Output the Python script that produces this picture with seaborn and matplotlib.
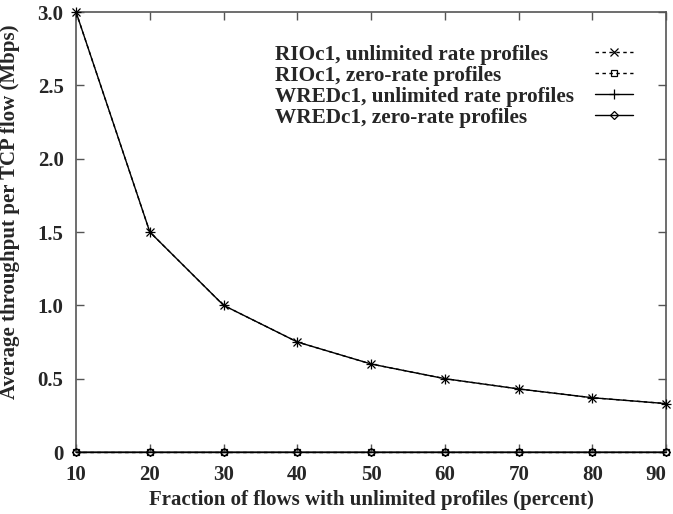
import pandas as pd
import matplotlib.pyplot as plt
import seaborn as sns

# Data
fraction = [10, 20, 30, 40, 50, 60, 70, 80, 90]
rio_unlimited = [3.0, 1.5, 1.0, 0.75, 0.6, 0.5, 0.43, 0.37, 0.33]
rio_zero = [0, 0, 0, 0, 0, 0, 0, 0, 0]
wred_unlimited = [3.0, 1.5, 1.0, 0.75, 0.6, 0.5, 0.43, 0.37, 0.33]
wred_zero = [0, 0, 0, 0, 0, 0, 0, 0, 0]

series_names = [
    'RIOc1, unlimited rate profiles',
    'RIOc1, zero-rate profiles',
    'WREDc1, unlimited rate profiles',
    'WREDc1, zero-rate profiles',
]
series_values = [rio_unlimited, rio_zero, wred_unlimited, wred_zero]

frames = []
for name, vals in zip(series_names, series_values):
    frames.append(pd.DataFrame({'fraction': fraction, 'throughput': vals, 'series': name}))
df = pd.concat(frames, ignore_index=True)

sns.set_theme(style="ticks")
plt.rcParams['font.family'] = ['Liberation Serif', 'DejaVu Serif']
plt.rcParams['font.weight'] = 'bold'

fig = plt.figure(figsize=(6.73, 5.14), dpi=100)
ax = fig.add_axes([0.113, 0.1206, 0.877, 0.856])

styles = {
    series_names[0]: dict(linestyle=(0, (2.5, 2.5)), marker='x', markersize=6),
    series_names[1]: dict(linestyle=(0, (2.5, 2.5)), marker='s', markersize=5, markerfacecolor='none'),
    series_names[2]: dict(linestyle='-', marker='+', markersize=7),
    series_names[3]: dict(linestyle='-', marker='D', markersize=4, markerfacecolor='none'),
}

for name in series_names:
    sub = df[df['series'] == name]
    sns.lineplot(data=sub, x='fraction', y='throughput', ax=ax, color='black',
                 linewidth=1.0, markeredgecolor='black', markeredgewidth=0.9,
                 label=name, clip_on=False, zorder=3, **styles[name])

ax.set_xlim(10, 90)
ax.set_ylim(0, 3.0)
ax.set_xticks(fraction)
ax.set_xticklabels([str(v) for v in fraction])
ax.set_yticks([0, 0.5, 1.0, 1.5, 2.0, 2.5, 3.0])
ax.set_yticklabels(['0', '0.5', '1.0', '1.5', '2.0', '2.5', '3.0'])
ax.tick_params(direction='in', top=True, right=True, length=6, width=1,
               labelsize=15, pad=9, color='#555555')
for lbl in ax.get_xticklabels() + ax.get_yticklabels():
    lbl.set_fontweight('bold')
# last x label sits inside the figure edge, as in the reference
ax.get_xticklabels()[-1].set_horizontalalignment('right')
for sp in ax.spines.values():
    sp.set_color('#555555')
    sp.set_linewidth(1.2)

ax.set_xlabel('Fraction of flows with unlimited profiles (percent)', fontsize=15, fontweight='bold')
ax.set_ylabel('Average throughput per TCP flow (Mbps)', fontsize=15, fontweight='bold')
ax.yaxis.set_label_coords(-0.095, 0.545)
ax.grid(False)

leg = ax.legend(loc='upper right', bbox_to_anchor=(0.944, 0.926), frameon=False,
                markerfirst=False, handlelength=1.8, labelspacing=0.05,
                handletextpad=1.1, borderpad=0, borderaxespad=0,
                prop={'weight': 'bold', 'size': 15.3})
# text left-aligned, handles pushed to the right edge of each row
for col in leg._legend_handle_box.get_children():
    col.align = 'left'
    for row in col.get_children():
        row.mode = 'expand'
        row.width = 358

fig.savefig('out.png', dpi=100)
